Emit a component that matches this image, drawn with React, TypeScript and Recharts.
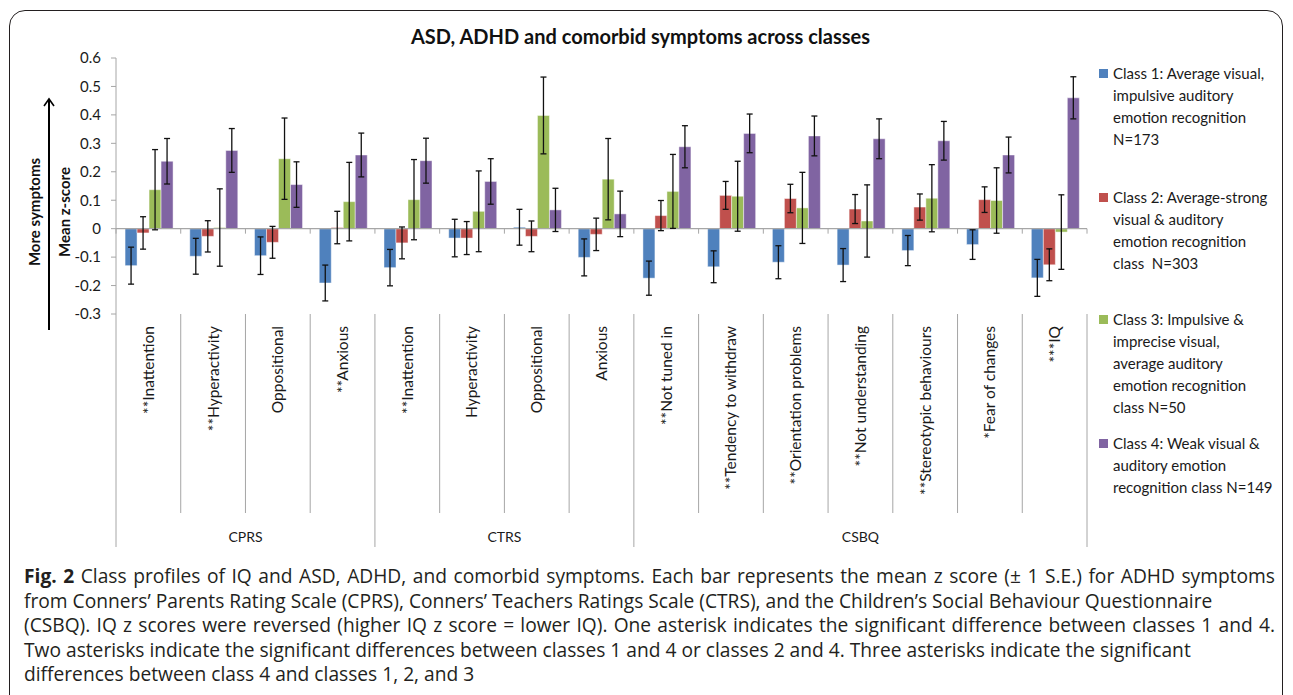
import { BarChart, Bar, XAxis, YAxis, ErrorBar, ReferenceLine } from 'recharts'

const categories = [
  '**Inattention', '**Hyperactivity', 'Oppositional', '**Anxious',
  '**Inattention', 'Hyperactivity', 'Oppositional', 'Anxious',
  '**Not tuned in', '**Tendency to withdraw', '**Orientation problems', '**Not understanding',
  '**Stereotypic behaviours', '*Fear of changes', '***IQ',
]

const groupNames = ['CPRS', 'CTRS', 'CSBQ']
const groupSizes = [4, 4, 7]

const class1 = [-0.13, -0.097, -0.095, -0.191, -0.137, -0.033, 0.005, -0.101, -0.174, -0.134, -0.118, -0.128, -0.077, -0.056, -0.173]
const class1Err = [0.065, 0.063, 0.066, 0.063, 0.064, 0.066, 0.063, 0.065, 0.06, 0.056, 0.058, 0.058, 0.053, 0.052, 0.065]
const class2 = [-0.015, -0.027, -0.048, 0.004, -0.05, -0.033, -0.027, -0.02, 0.046, 0.117, 0.106, 0.069, 0.076, 0.102, -0.127]
const class2Err = [0.057, 0.055, 0.056, 0.057, 0.056, 0.058, 0.054, 0.057, 0.053, 0.049, 0.05, 0.051, 0.046, 0.045, 0.056]
const class3 = [0.137, 0.004, 0.246, 0.095, 0.102, 0.061, 0.398, 0.174, 0.131, 0.114, 0.073, 0.027, 0.107, 0.099, -0.012]
const class3Err = [0.141, 0.136, 0.143, 0.138, 0.141, 0.142, 0.135, 0.143, 0.13, 0.123, 0.125, 0.127, 0.118, 0.115, 0.131]
const class4 = [0.237, 0.275, 0.155, 0.259, 0.239, 0.166, 0.066, 0.052, 0.288, 0.335, 0.326, 0.316, 0.309, 0.259, 0.46]
const class4Err = [0.08, 0.077, 0.08, 0.077, 0.079, 0.08, 0.076, 0.08, 0.074, 0.068, 0.07, 0.07, 0.068, 0.063, 0.074]

const yTicks = [-0.3, -0.2, -0.1, 0, 0.1, 0.2, 0.3, 0.4, 0.5, 0.6]

const seriesColors = ['#4F81BD', '#C0504D', '#9BBB59', '#8064A2']
const legendLines = [
  ['Class 1: Average visual,', 'impulsive auditory', 'emotion recognition', 'N=173'],
  ['Class 2: Average-strong', 'visual & auditory', 'emotion recognition', 'class  N=303'],
  ['Class 3: Impulsive &', 'imprecise visual,', 'average auditory', 'emotion recognition', 'class N=50'],
  ['Class 4: Weak visual &', 'auditory emotion', 'recognition class N=149'],
]
const legendTops = [62, 186, 308, 432]

const captionLines = [
  'Class profiles of IQ and ASD, ADHD, and comorbid symptoms. Each bar represents the mean z score (\u00b1 1 S.E.) for ADHD symptoms',
  'from Conners\u2019 Parents Rating Scale (CPRS), Conners\u2019 Teachers Ratings Scale (CTRS), and the Children\u2019s Social Behaviour Questionnaire',
  '(CSBQ). IQ z scores were reversed (higher IQ z score = lower IQ). One asterisk indicates the significant difference between classes 1 and 4.',
  'Two asterisks indicate the significant differences between classes 1 and 4 or classes 2 and 4. Three asterisks indicate the significant',
  'differences between class 4 and classes 1, 2, and 3',
]
// lines that run to the right edge in the reference
const justified = [true, false, true, false, false]

const data = categories.map((label, i) => ({
  label,
  c1: class1[i], e1: class1Err[i],
  c2: class2[i], e2: class2Err[i],
  c3: class3[i], e3: class3Err[i],
  c4: class4[i], e4: class4Err[i],
}))

const FONT = 'Lato, "Open Sans", sans-serif'
const CHART_W = 1100
const MARGIN = { top: 58, right: 13, left: 56, bottom: 6 }
const Y_W = 60
const PLOT_W = CHART_W - MARGIN.left - MARGIN.right - Y_W
const STEP = PLOT_W / categories.length

const groupStarts: number[] = []
groupSizes.reduce((acc, n) => {
  groupStarts.push(acc)
  return acc + n
}, 0)

const CategoryTick = (props: any) => {
  const { x, y, payload } = props
  const i = payload.index
  const left = x - STEP / 2
  const g = groupStarts.indexOf(i)
  return (
    <g>
      <line x1={left} y1={y} x2={left} y2={y + (g >= 0 ? 233 : 199)} stroke="#A6A6A6" strokeWidth={1} />
      {i === categories.length - 1 && (
        <line x1={x + STEP / 2} y1={y} x2={x + STEP / 2} y2={y + 233} stroke="#A6A6A6" strokeWidth={1} />
      )}
      <text
        transform={`translate(${x},${y + 12}) rotate(-90)`}
        textAnchor="end"
        dy="0.35em"
        fontSize={15.5}
        fill="#1a1a1a"
        fontFamily={FONT}
      >
        {payload.value}
      </text>
      {g >= 0 && (
        <text
          x={left + (groupSizes[g] * STEP) / 2}
          y={y + 228}
          textAnchor="middle"
          fontSize={14}
          fill="#1a1a1a"
          fontFamily={FONT}
        >
          {groupNames[g]}
        </text>
      )}
    </g>
  )
}

const ZeroLine = (props: any) => {
  const { x1, y1, x2 } = props
  const n = categories.length
  const step = (x2 - x1) / n
  return (
    <g>
      <line x1={x1} y1={y1} x2={x2} y2={y1} stroke="#A6A6A6" strokeWidth={1.2} />
      {Array.from({ length: n + 1 }, (_, k) => (
        <line key={k} x1={x1 + k * step} y1={y1} x2={x1 + k * step} y2={y1 + 5} stroke="#A6A6A6" strokeWidth={1} />
      ))}
    </g>
  )
}

const keys = ['c1', 'c2', 'c3', 'c4']
const errKeys = ['e1', 'e2', 'e3', 'e4']

export default function App() {
  return (
    <div style={{ position: 'absolute', left: 0, top: 0, width: 1293, height: 695, overflow: 'hidden', background: '#fff', fontFamily: FONT }}>
      <div style={{ position: 'absolute', left: 9, top: 10, width: 1272, height: 720, border: '1.5px solid #231f20', borderRadius: 16 }} />
      <div style={{ position: 'absolute', left: 0, top: 24, width: 1281, textAlign: 'center', fontSize: 20, fontWeight: 700, color: '#111' }}>
        ASD, ADHD and comorbid symptoms across classes
      </div>
      <svg style={{ position: 'absolute', left: 0, top: 0 }} width={120} height={360}>
        <text transform="translate(40,212) rotate(-90)" textAnchor="middle" fontSize={15} fontWeight={700} fill="#111" fontFamily={FONT}>
          More symptoms
        </text>
        <text transform="translate(70,212) rotate(-90)" textAnchor="middle" fontSize={15} fontWeight={700} fill="#111" fontFamily={FONT}>
          Mean z-score
        </text>
        <line x1={49} y1={100} x2={49} y2={330} stroke="#000" strokeWidth={2} />
        <polyline points="44,106 49,99 54,106" fill="none" stroke="#000" strokeWidth={1.6} />
      </svg>
      <div style={{ position: 'absolute', left: 0, top: 0 }}>
        <BarChart width={CHART_W} height={560} data={data} margin={MARGIN} barCategoryGap="14%" barGap={0}>
          <YAxis
            width={Y_W}
            domain={[-0.3, 0.6]}
            ticks={yTicks}
            allowDataOverflow
            tickFormatter={(v: number) => (v === 0 ? '0' : v.toFixed(1))}
            tick={{ fontSize: 15, fill: '#1a1a1a', fontFamily: FONT }}
            tickSize={5}
            tickMargin={10}
            stroke="#A6A6A6"
          />
          <XAxis
            dataKey="label"
            height={240}
            interval={0}
            axisLine={false}
            tickLine={false}
            tickSize={0}
            tickMargin={0}
            tick={<CategoryTick />}
          />
          <ReferenceLine y={0} shape={<ZeroLine />} />
          {keys.map((k, s) => (
            <Bar key={k} dataKey={k} fill={seriesColors[s]} stroke="rgba(255,255,255,0.45)" strokeWidth={1} isAnimationActive={false}>
              <ErrorBar dataKey={errKeys[s]} width={3} stroke="#111" strokeWidth={1.3} direction="y" />
            </Bar>
          ))}
        </BarChart>
      </div>
      {legendLines.map((lines, s) => (
        <div key={s} style={{ position: 'absolute', left: 1099, top: legendTops[s], fontSize: 15, lineHeight: '22px', color: '#1a1a1a' }}>
          <span style={{ position: 'absolute', left: 0, top: 7, width: 9, height: 9, background: seriesColors[s] }} />
          <div style={{ marginLeft: 14, whiteSpace: 'pre' }}>
            {lines.map((l, j) => (
              <div key={j}>{l}</div>
            ))}
          </div>
        </div>
      ))}
      <div style={{ position: 'absolute', left: 24, top: 564, width: 1251, fontFamily: '"Open Sans", sans-serif', fontSize: 19.2, lineHeight: '24.6px', color: '#231f20' }}>
        {captionLines.map((l, j) => (
          <div
            key={j}
            style={justified[j] ? { textAlign: 'justify', textAlignLast: 'justify' } : { whiteSpace: 'nowrap' }}
          >
            {j === 0 && <b>Fig. 2 </b>}
            {l}
          </div>
        ))}
      </div>
    </div>
  )
}
